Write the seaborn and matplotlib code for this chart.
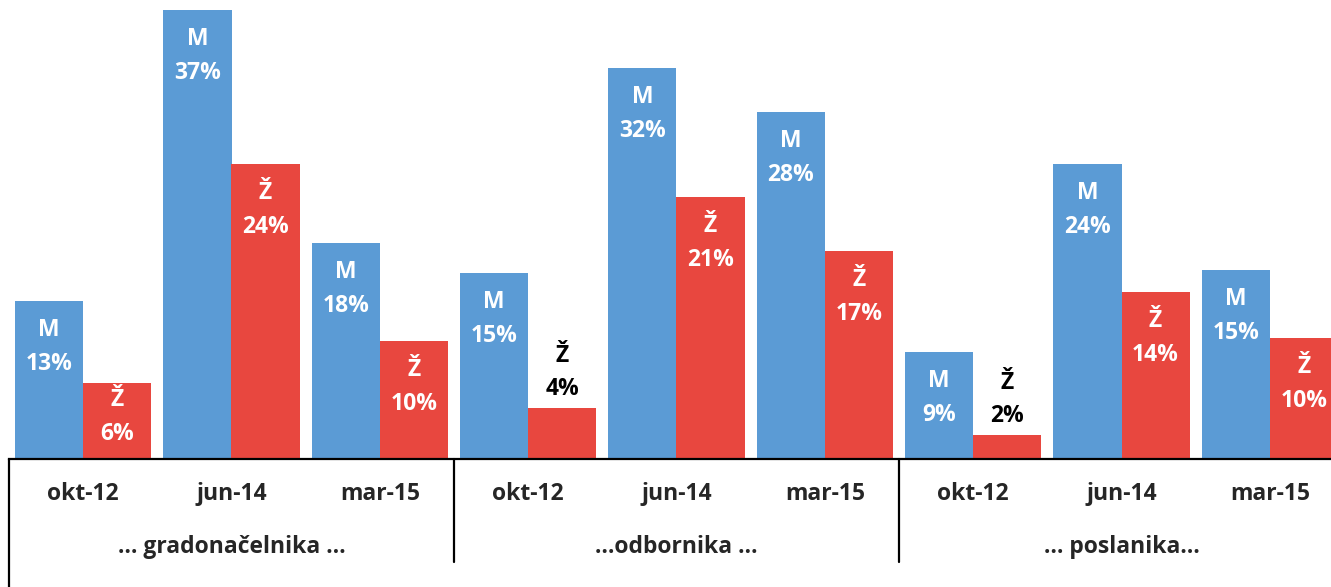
import pandas as pd
import matplotlib
matplotlib.use("Agg")
import matplotlib.pyplot as plt
import seaborn as sns

groups = ["… gradonačelnika …", "…odbornika …", "… poslanika…"]
dates = ["okt-12", "jun-14", "mar-15"]
series = ["M", "Ž"]
# bar heights (labels show them rounded)
m_values = [12.9, 36.65, 17.6, 15.2, 31.9, 28.35, 8.7, 24.1, 15.4]
z_values = [6.2, 24.1, 9.6, 4.2, 21.4, 17.0, 2.0, 13.6, 9.9]
colors = ["#5B9BD5", "#E8473F"]

# long table: one row per bar
rows = []
for i, (m, z) in enumerate(zip(m_values, z_values)):
    key = f"{groups[i // 3]}|{dates[i % 3]}"
    rows.append({"cat": key, "serija": "M", "val": m})
    rows.append({"cat": key, "serija": "Ž", "val": z})
df = pd.DataFrame(rows)
order = list(dict.fromkeys(df["cat"]))

sns.set_style("white")
plt.rcParams["font.family"] = ["Open Sans", "DejaVu Sans"]

W, H = 1331, 587
YMAX = 37.47
AX_H = 459
fig = plt.figure(figsize=(W / 100, H / 100), dpi=100)
# the plot area runs a little past the right edge, as in the original
ax = fig.add_axes([9 / W, (H - AX_H) / H, 1335 / W, AX_H / H])

sns.barplot(data=df, x="cat", y="val", hue="serija", order=order,
            hue_order=series, palette=colors, width=0.917, saturation=1,
            legend=False, ax=ax, edgecolor="none")

ax.set_xlim(-0.5, 8.5)
ax.set_ylim(0, YMAX)
ax.set_xticks([])
ax.set_yticks([])
ax.set_xlabel("")
ax.set_ylabel("")
for s in ["top", "right", "left"]:
    ax.spines[s].set_visible(False)
ax.spines["bottom"].set_linewidth(1.6)
ax.spines["bottom"].set_color("black")

FS = 16.5
# labels on bars
for cont, name in zip(ax.containers, series):
    for bar in cont:
        h = bar.get_height()
        xc = bar.get_x() + bar.get_width() / 2
        pct = f"{h:.0f}%"
        px = h * AX_H / YMAX
        if h < 5:
            ax.annotate(name, (xc, h), xytext=(0, 52), textcoords="offset pixels",
                        ha="center", va="center", fontsize=FS, fontweight="bold", color="black")
            ax.annotate(pct, (xc, h), xytext=(0, 19), textcoords="offset pixels",
                        ha="center", va="center", fontsize=FS, fontweight="bold", color="black")
        else:
            mid = min(46, px / 2 - 4)
            ax.annotate(name, (xc, h), xytext=(0, -(mid - 17)), textcoords="offset pixels",
                        ha="center", va="center", fontsize=FS, fontweight="bold", color="white")
            ax.annotate(pct, (xc, h), xytext=(0, -(mid + 17)), textcoords="offset pixels",
                        ha="center", va="center", fontsize=FS, fontweight="bold", color="white")

# multi-level category axis
tr = ax.get_xaxis_transform()
for i in range(9):
    ax.text(i, -35 / AX_H, dates[i % 3], transform=tr, ha="center", va="center",
            fontsize=FS, fontweight="bold")
for g in range(3):
    ax.text(3 * g + 1, -88 / AX_H, groups[g], transform=tr, ha="center", va="center",
            fontsize=FS, fontweight="bold")
ax.plot([-0.5, -0.5], [0, -130 / AX_H], transform=tr, color="black", lw=1.6, clip_on=False)
for xd in [2.5, 5.5]:
    ax.plot([xd, xd], [0, -103 / AX_H], transform=tr, color="black", lw=1.6, clip_on=False)

fig.savefig("out.png", dpi=100)
